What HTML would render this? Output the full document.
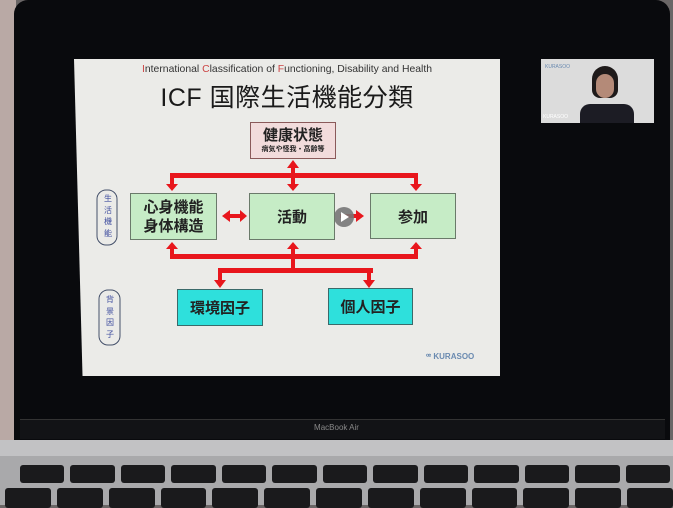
<!DOCTYPE html>
<html><head><meta charset="utf-8"><style>
*{margin:0;padding:0;box-sizing:border-box}
body{width:673px;height:505px;overflow:hidden;background:#6a6666;position:relative;font-family:"Liberation Sans","Noto Sans CJK JP",sans-serif}
.a{position:absolute}
.box{position:absolute;border:1.5px solid #6a7a6a;display:flex;align-items:center;justify-content:center;text-align:center;color:#222;font-weight:bold}
.g{background:#c6ecc6}
.c{background:#2ee0dc;border-color:#3a6a6a}
</style></head><body>
<div class="a" style="left:0;top:0;width:16px;height:440px;background:#b9a9a5"></div>
<div class="a" style="left:14px;top:0;width:656px;height:440px;background:#090a0d;border-radius:14px 14px 0 0"></div>
<div class="a" style="left:20px;top:419px;width:645px;height:20px;background:#121316;border-top:1px solid #333"></div>
<div class="a" style="left:0;top:423px;width:673px;text-align:center;color:#888;font-size:8px">MacBook Air</div>
<div class="a" style="left:0;top:440px;width:673px;height:65px;background:#a9a9ab"></div>
<div class="a" style="left:0;top:440px;width:673px;height:16px;background:#c2c2c4"></div>
<div class="a" style="left:20px;top:465px;width:650px;height:18px;display:flex;gap:6px">
<div style="flex:1;background:#1a1a1c;border-radius:3px"></div><div style="flex:1;background:#1a1a1c;border-radius:3px"></div><div style="flex:1;background:#1a1a1c;border-radius:3px"></div><div style="flex:1;background:#1a1a1c;border-radius:3px"></div><div style="flex:1;background:#1a1a1c;border-radius:3px"></div><div style="flex:1;background:#1a1a1c;border-radius:3px"></div><div style="flex:1;background:#1a1a1c;border-radius:3px"></div><div style="flex:1;background:#1a1a1c;border-radius:3px"></div><div style="flex:1;background:#1a1a1c;border-radius:3px"></div><div style="flex:1;background:#1a1a1c;border-radius:3px"></div><div style="flex:1;background:#1a1a1c;border-radius:3px"></div><div style="flex:1;background:#1a1a1c;border-radius:3px"></div><div style="flex:1;background:#1a1a1c;border-radius:3px"></div></div>
<div class="a" style="left:5px;top:488px;width:668px;height:20px;display:flex;gap:6px">
<div style="flex:1;background:#1a1a1c;border-radius:3px"></div><div style="flex:1;background:#1a1a1c;border-radius:3px"></div><div style="flex:1;background:#1a1a1c;border-radius:3px"></div><div style="flex:1;background:#1a1a1c;border-radius:3px"></div><div style="flex:1;background:#1a1a1c;border-radius:3px"></div><div style="flex:1;background:#1a1a1c;border-radius:3px"></div><div style="flex:1;background:#1a1a1c;border-radius:3px"></div><div style="flex:1;background:#1a1a1c;border-radius:3px"></div><div style="flex:1;background:#1a1a1c;border-radius:3px"></div><div style="flex:1;background:#1a1a1c;border-radius:3px"></div><div style="flex:1;background:#1a1a1c;border-radius:3px"></div><div style="flex:1;background:#1a1a1c;border-radius:3px"></div><div style="flex:1;background:#1a1a1c;border-radius:3px"></div></div>

<!-- webcam -->
<div class="a" style="left:541px;top:59px;width:113px;height:64px;background:#dcdcdc"></div>
<div class="a" style="left:592px;top:66px;width:26px;height:32px;background:#1e1a1a;border-radius:13px 13px 8px 8px"></div>
<div class="a" style="left:596px;top:74px;width:18px;height:24px;background:#b48a78;border-radius:9px"></div>
<div class="a" style="left:580px;top:104px;width:54px;height:19px;background:#1c1c24;border-radius:10px 10px 0 0"></div>
<div class="a" style="left:545px;top:64px;font-size:5px;color:#6a8ab0">KURASOO</div>
<div class="a" style="left:543px;top:114px;font-size:5px;color:#fff">KURASOO</div>

<!-- slide -->
<div class="a" style="left:74px;top:59px;width:426px;height:317px;background:#ebebe8;clip-path:polygon(0 0,100% 0,100% 100%,2% 100%)"></div>
<div class="a" style="left:74px;top:64px;width:426px;text-align:center;font-size:10.4px;color:#333"><span style="color:#c44">I</span>nternational <span style="color:#c44">C</span>lassification of <span style="color:#c44">F</span>unctioning, Disability and Health</div>
<div class="a" style="left:74px;top:78px;width:426px;text-align:center;font-size:25px;color:#1a1a1a;letter-spacing:0.5px">ICF 国際生活機能分類</div>

<svg class="a" style="left:0;top:0" width="673" height="505">
<g fill="#e8161c" stroke="none">
<rect x="170" y="173" width="248" height="5"/>
<rect x="170" y="173" width="4" height="12"/><polygon points="166,184 178,184 172,191"/>
<rect x="414" y="173" width="4" height="12"/><polygon points="410,184 422,184 416,191"/>
<rect x="291" y="165" width="4" height="21"/><polygon points="287,168 299,168 293,160"/><polygon points="287,184 299,184 293,191"/>
<rect x="170" y="254" width="248" height="5"/>
<rect x="170" y="248" width="4" height="10"/><polygon points="166,249 178,249 172,242"/>
<rect x="414" y="248" width="4" height="10"/><polygon points="410,249 422,249 416,242"/>
<rect x="291" y="246" width="4" height="26"/><polygon points="287,249 299,249 293,242"/>
<rect x="218" y="268" width="155" height="5"/>
<rect x="218" y="268" width="4" height="14"/><polygon points="214,280 226,280 220,288"/>
<rect x="367" y="268" width="4" height="14"/><polygon points="363,280 375,280 369,288"/>
<rect x="228" y="214" width="14" height="4"/><polygon points="230,210 230,222 222,216"/><polygon points="240,210 240,222 247,216"/>
<rect x="340" y="214" width="18" height="4"/><polygon points="356,210 356,222 364,216"/>
</g>
<circle cx="344" cy="217" r="10" fill="#777" opacity="0.9"/>
<polygon points="341,212 341,222 349,217" fill="#fff"/>
<rect x="97" y="190" width="20" height="55" rx="9" fill="none" stroke="#44506a" stroke-width="1"/>
<rect x="99" y="290" width="21" height="55" rx="9" fill="none" stroke="#44506a" stroke-width="1"/>
</svg>
<div class="a" style="left:102px;top:193px;width:12px;font-size:8px;line-height:11.5px;color:#4250a0;text-align:center">生活機能</div>
<div class="a" style="left:104px;top:294px;width:12px;font-size:8px;line-height:11.5px;color:#4250a0;text-align:center">背景因子</div>

<div class="box" style="left:250px;top:122px;width:86px;height:37px;background:#f2dcdc;flex-direction:column;border-color:#8a5a5a"><div style="font-size:15px;line-height:17px">健康状態</div><div style="font-size:7px">病気や怪我・高齢等</div></div>
<div class="box g" style="left:130px;top:193px;width:87px;height:47px;font-size:15px;line-height:19px">心身機能<br>身体構造</div>
<div class="box g" style="left:249px;top:193px;width:86px;height:47px;font-size:15px">活動</div>
<div class="box g" style="left:370px;top:193px;width:86px;height:46px;font-size:15px">参加</div>
<div class="box c" style="left:177px;top:289px;width:86px;height:37px;font-size:15px">環境因子</div>
<div class="box c" style="left:328px;top:288px;width:85px;height:37px;font-size:15px">個人因子</div>
<div class="a" style="left:426px;top:352px;font-size:8px;color:#6a8ab0;font-weight:bold">ꟹ KURASOO</div>
</body></html>
